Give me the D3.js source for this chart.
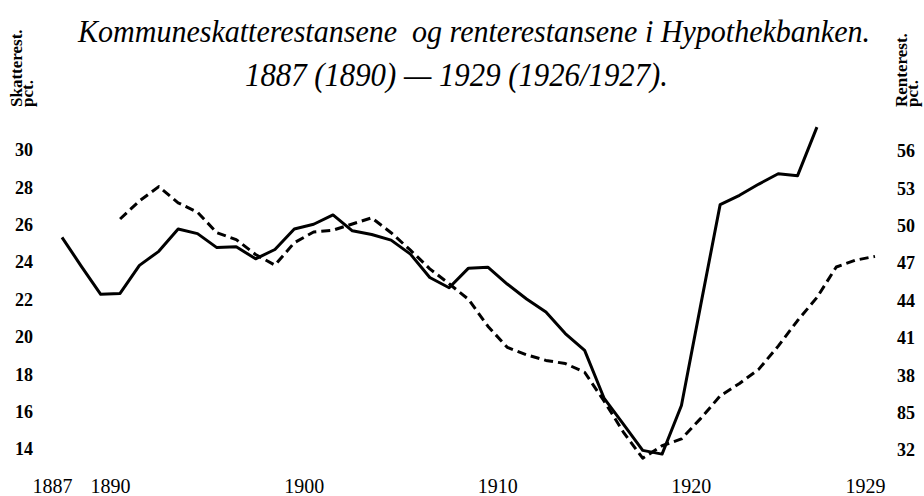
<!DOCTYPE html>
<html>
<head>
<meta charset="utf-8">
<script src="https://cdn.jsdelivr.net/npm/d3@7"></script>
<style>
  html, body { margin: 0; padding: 0; background: #fff; }
  #chart { width: 924px; height: 496px; }
</style>
</head>
<body>
<div id="chart"></div>
<script>
// kommuneskatterestanser (venstre akse), 1887 - 1926/27
const skatterestStart = 1887;
const skatterest = [
    25.3, 23.75, 22.25, 22.3, 23.8, 24.55, 25.75, 25.5, 24.75, 24.8,
    24.15, 24.65, 25.75, 26.0, 26.5, 25.65, 25.45, 25.15, 24.4, 23.15,
    22.6, 23.65, 23.7, 22.8, 22.0, 21.3, 20.15, 19.25, 16.7, 15.3,
    13.9, 13.7, 16.3, 21.7, 27.05, 27.55, 28.15, 28.7, 28.6, 31.2
];

// renterestanser i Hypothekbanken (høyre akse), 1890 - 1929
const renterestStart = 1890;
const renterest = [
    50.5, 51.95, 53.1, 51.8, 51.05, 49.4, 48.85, 47.65, 46.8, 48.6,
    49.46, 49.6, 50.1, 50.6, 49.4, 48.0, 46.5, 45.3, 44.05, 41.9,
    40.2, 39.6, 39.15, 38.9, 38.2, 35.9, 33.4, 31.3, 32.3, 32.85,
    34.5, 36.3, 37.3, 38.45, 40.3, 42.35, 44.2, 46.65, 47.2, 47.5
];

const yearTicks = [1887, 1890, 1900, 1910, 1920, 1929];
const leftTicks = [14, 16, 18, 20, 22, 24, 26, 28, 30];
const rightTicks = [32, 35, 38, 41, 44, 47, 50, 53, 56];
const rightTickLabels = ["32", "85", "38", "41", "44", "47", "50", "53", "56"];

const titleLines = [
    "Kommuneskatterestansene  og renterestansene i Hypothekbanken.",
    "1887 (1890) \u2014 1929 (1926/1927)."
];

let div = document.getElementById("chart");
let width = 924, height = 496;

let svg = d3.select(div).append("svg")
    .attr("width", width)
    .attr("height", height);

svg.append("rect")
    .attr("width", width).attr("height", height)
    .attr("fill", "#fff");

let serif = "'Liberation Serif', 'Times New Roman', serif";

// scales
let x = d3.scaleLinear().domain([1887, 1929]).range([62, 875]);
let yL = d3.scaleLinear().domain([14, 30]).range([448.5, 149.5]);
let yR = d3.scaleLinear().domain([32, 56]).range([449.5, 150.5]);

// title
svg.append("text")
    .attr("x", 78).attr("y", 42)
    .attr("textLength", 792)
    .attr("lengthAdjust", "spacingAndGlyphs")
    .attr("font-family", serif)
    .attr("font-style", "italic")
    .attr("font-size", 31)
    .style("white-space", "pre")
    .text(titleLines[0]);

svg.append("text")
    .attr("x", 245).attr("y", 86)
    .attr("textLength", 423)
    .attr("lengthAdjust", "spacingAndGlyphs")
    .attr("font-family", serif)
    .attr("font-style", "italic")
    .attr("font-size", 33)
    .text(titleLines[1]);

// left axis (no line, just labels)
let axisL = d3.axisLeft(yL).tickValues(leftTicks).tickSize(0);
let gL = svg.append("g").call(axisL);
gL.select(".domain").remove();
gL.selectAll("text")
    .attr("x", 15)
    .attr("dy", "0.35em")
    .attr("text-anchor", "start")
    .attr("font-family", serif)
    .attr("font-weight", "bold")
    .attr("font-size", 18)
    .attr("fill", "#000");

// right axis
let axisR = d3.axisRight(yR).tickValues(rightTicks).tickSize(0)
    .tickFormat((d, i) => rightTickLabels[i]);
let gR = svg.append("g").call(axisR);
gR.select(".domain").remove();
gR.selectAll("text")
    .attr("x", 897)
    .attr("dy", "0.35em")
    .attr("text-anchor", "start")
    .attr("font-family", serif)
    .attr("font-weight", "bold")
    .attr("font-size", 18)
    .attr("fill", "#000");

// x axis
let axisX = d3.axisBottom(x).tickValues(yearTicks).tickSize(0).tickFormat(d3.format("d"));
let gX = svg.append("g").attr("transform", "translate(0,479)").call(axisX);
gX.select(".domain").remove();
gX.selectAll("text")
    .attr("dx", -10)
    .attr("y", 0)
    .attr("dy", "0.71em")
    .attr("font-family", serif)
    .attr("font-size", 20)
    .attr("fill", "#000");

// axis titles, rotated
function sideTitle(tx, ty, txt) {
    svg.append("text")
        .attr("transform", `translate(${tx},${ty}) rotate(-90)`)
        .attr("font-family", serif)
        .attr("font-weight", "bold")
        .attr("font-size", 17)
        .text(txt);
}
sideTitle(22, 107, "Skatterest.");
sideTitle(33, 107, "pct.");
sideTitle(907, 107, "Renterest.");
sideTitle(918, 107, "pct.");

// lines
let skatteData = skatterest.map((v, i) => ({year: skatterestStart + i, value: v}));
let renteData = renterest.map((v, i) => ({year: renterestStart + i, value: v}));

let lineL = d3.line().x(d => x(d.year)).y(d => yL(d.value));
let lineR = d3.line().x(d => x(d.year)).y(d => yR(d.value));

svg.append("path")
    .attr("d", lineR(renteData))
    .attr("fill", "none")
    .attr("stroke", "#000")
    .attr("stroke-width", 3)
    .attr("stroke-dasharray", "9,5")
    .attr("stroke-linejoin", "round");

svg.append("path")
    .attr("d", lineL(skatteData))
    .attr("fill", "none")
    .attr("stroke", "#000")
    .attr("stroke-width", 3)
    .attr("stroke-linejoin", "round");
</script>
</body>
</html>
